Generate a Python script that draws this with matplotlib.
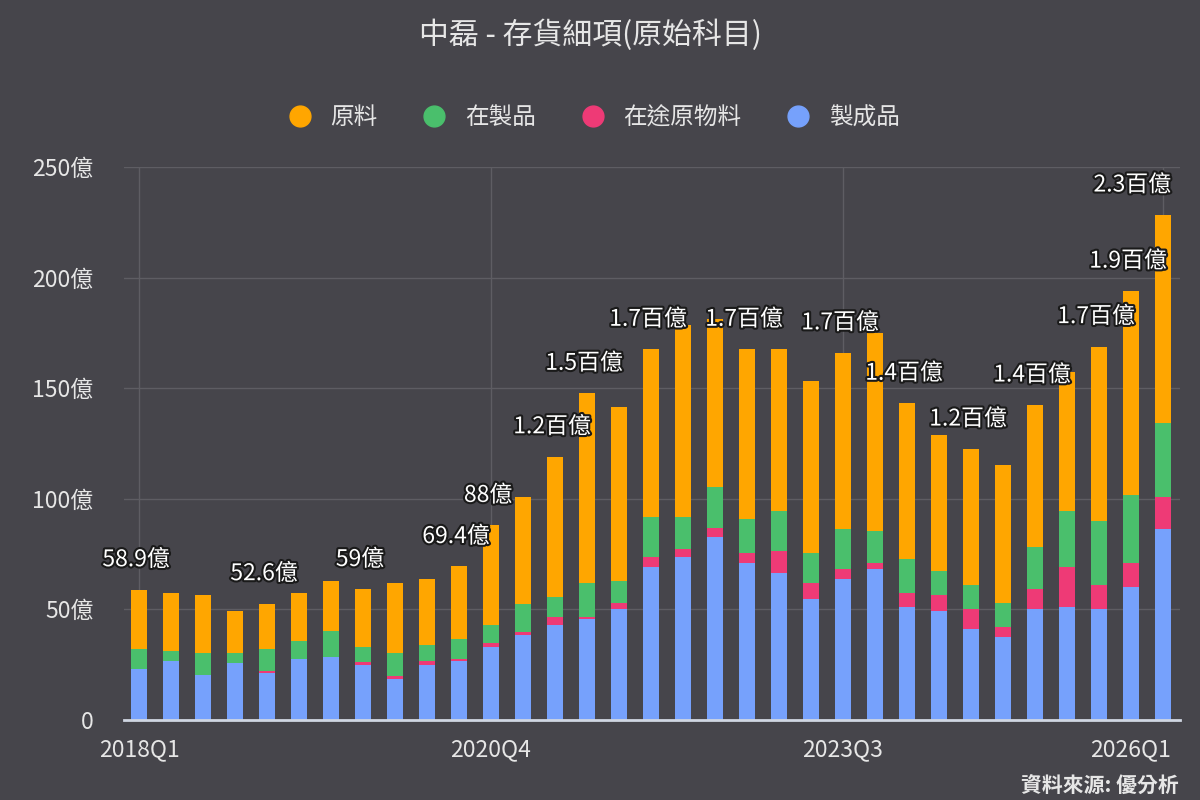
import numpy as np
import matplotlib.pyplot as plt
import matplotlib.patheffects as pe
from matplotlib.lines import Line2D

plt.rcParams['font.family'] = ['Noto Sans CJK TC', 'DejaVu Sans']

quarters = [f"{y}Q{q}" for y in range(2018, 2026) for q in range(1, 5)] + ["2026Q1"]

# 億元
finished = [23.0, 26.7, 20.3, 25.9, 21.4, 27.6, 28.6, 24.9, 18.5, 24.9, 26.7,
            32.9, 38.4, 42.9, 45.7, 50.2, 69.3, 73.5, 82.6, 70.8, 66.3, 54.6,
            63.6, 68.1, 50.9, 49.4, 41.0, 37.4, 50.2, 51.2, 50.2, 60.3, 86.3]
transit = [0.0, 0.0, 0.0, 0.0, 0.7, 0.0, 0.0, 1.2, 1.2, 1.9, 1.0,
           2.1, 1.2, 3.8, 1.0, 2.8, 4.5, 3.8, 4.4, 4.5, 10.1, 7.2,
           4.5, 2.7, 6.4, 7.1, 9.2, 4.8, 9.0, 18.1, 10.8, 10.5, 14.7]
wip = [9.0, 4.5, 10.1, 4.5, 9.9, 8.1, 11.8, 7.1, 10.7, 7.1, 8.8,
       8.0, 12.7, 9.0, 15.4, 9.8, 17.8, 14.3, 18.5, 15.6, 18.1, 13.5,
       18.2, 14.8, 15.3, 11.0, 10.8, 10.8, 19.1, 25.2, 29.0, 30.9, 33.4]
raw = [26.9, 26.4, 26.1, 19.0, 20.6, 21.9, 22.4, 25.8, 31.7, 30.0, 32.9,
       45.0, 48.7, 63.3, 85.6, 78.8, 76.0, 87.0, 75.6, 76.7, 73.1, 78.0,
       79.7, 89.5, 70.6, 61.3, 61.5, 62.3, 64.1, 63.0, 78.8, 92.2, 93.9]

label_idx = [0, 4, 7, 10, 11, 13, 14, 16, 19, 22, 24, 26, 28, 30, 31, 32]
tick_idx = [0, 11, 22, 32]

bg = '#46454b'
c_raw = '#ffa600'
c_wip = '#4abf6c'
c_tr = '#ee3a76'
c_fin = '#76a1fc'
txt = '#e6e6e6'

fig = plt.figure(figsize=(12, 8), dpi=100, facecolor=bg)
ax = fig.add_axes([0.1033, 0.1, 0.88, 0.69125], facecolor=bg)

x = np.arange(len(quarters))
w = 0.52
fin = np.array(finished)
tr = np.array(transit)
wp = np.array(wip)
rw = np.array(raw)

ax.bar(x, fin, w, color=c_fin, zorder=3)
ax.bar(x, tr, w, bottom=fin, color=c_tr, zorder=3)
ax.bar(x, wp, w, bottom=fin + tr, color=c_wip, zorder=3)
ax.bar(x, rw, w, bottom=fin + tr + wp, color=c_raw, zorder=3)

total = fin + tr + wp + rw

def fmt(v):
    if v >= 100:
        return f"{v/100:.1f}百億"
    s = f"{v:.1f}"
    if s.endswith('.0'):
        s = s[:-2]
    return s + "億"

for i in label_idx:
    last = i == len(quarters) - 1
    ax.annotate(fmt(total[i]), (x[i], total[i]), xytext=(8 if last else -3, 30),
                textcoords='offset pixels', ha='right' if last else 'center',
                va='center', fontsize=16.5, color='white', zorder=5,
                path_effects=[pe.withStroke(linewidth=3, foreground='#1a1a1a')])

ax.set_xlim(-0.47, 32.53)
ax.set_ylim(0, 250)
ax.set_yticks([0, 50, 100, 150, 200, 250])
ax.set_yticklabels(['0', '50億', '100億', '150億', '200億', '250億'])
ax.set_xticks(tick_idx)
ax.set_xticklabels([])
for i in tick_idx:
    last = i == len(quarters) - 1
    ax.annotate(quarters[i], (x[i], 0), xycoords=('data', 'axes fraction'),
                xytext=(8 if last else 0, -30), textcoords='offset pixels',
                ha='right' if last else 'center', va='center',
                fontsize=16.5, color=txt)

ax.tick_params(axis='both', length=0, colors=txt, labelsize=16.5)
ax.tick_params(axis='y', pad=22)

ax.grid(True, color='#5e5d63', linewidth=1, zorder=0)
for s in ['top', 'right', 'left']:
    ax.spines[s].set_visible(False)
ax.spines['bottom'].set_color('#d0d6e2')
ax.spines['bottom'].set_linewidth(2)
ax.spines['bottom'].set_zorder(4)

fig.text(0.492, 0.956, '中磊 - 存貨細項(原始科目)', ha='center', va='center',
         fontsize=21.5, color=txt)

handles = [Line2D([], [], marker='o', linestyle='', markersize=15, color=c)
           for c in [c_raw, c_wip, c_tr, c_fin]]
fig.legend(handles, ['原料', '在製品', '在途原物料', '製成品'], loc='center',
           bbox_to_anchor=(0.49, 0.8525), ncol=4, frameon=False, fontsize=17,
           labelcolor=txt, handletextpad=0.3, columnspacing=1.4)

fig.text(0.982, 0.018, '資料來源: 優分析', ha='right', va='center', fontsize=15,
         color=txt, fontweight='bold')

fig.savefig('out.png', dpi=100, facecolor=bg)
